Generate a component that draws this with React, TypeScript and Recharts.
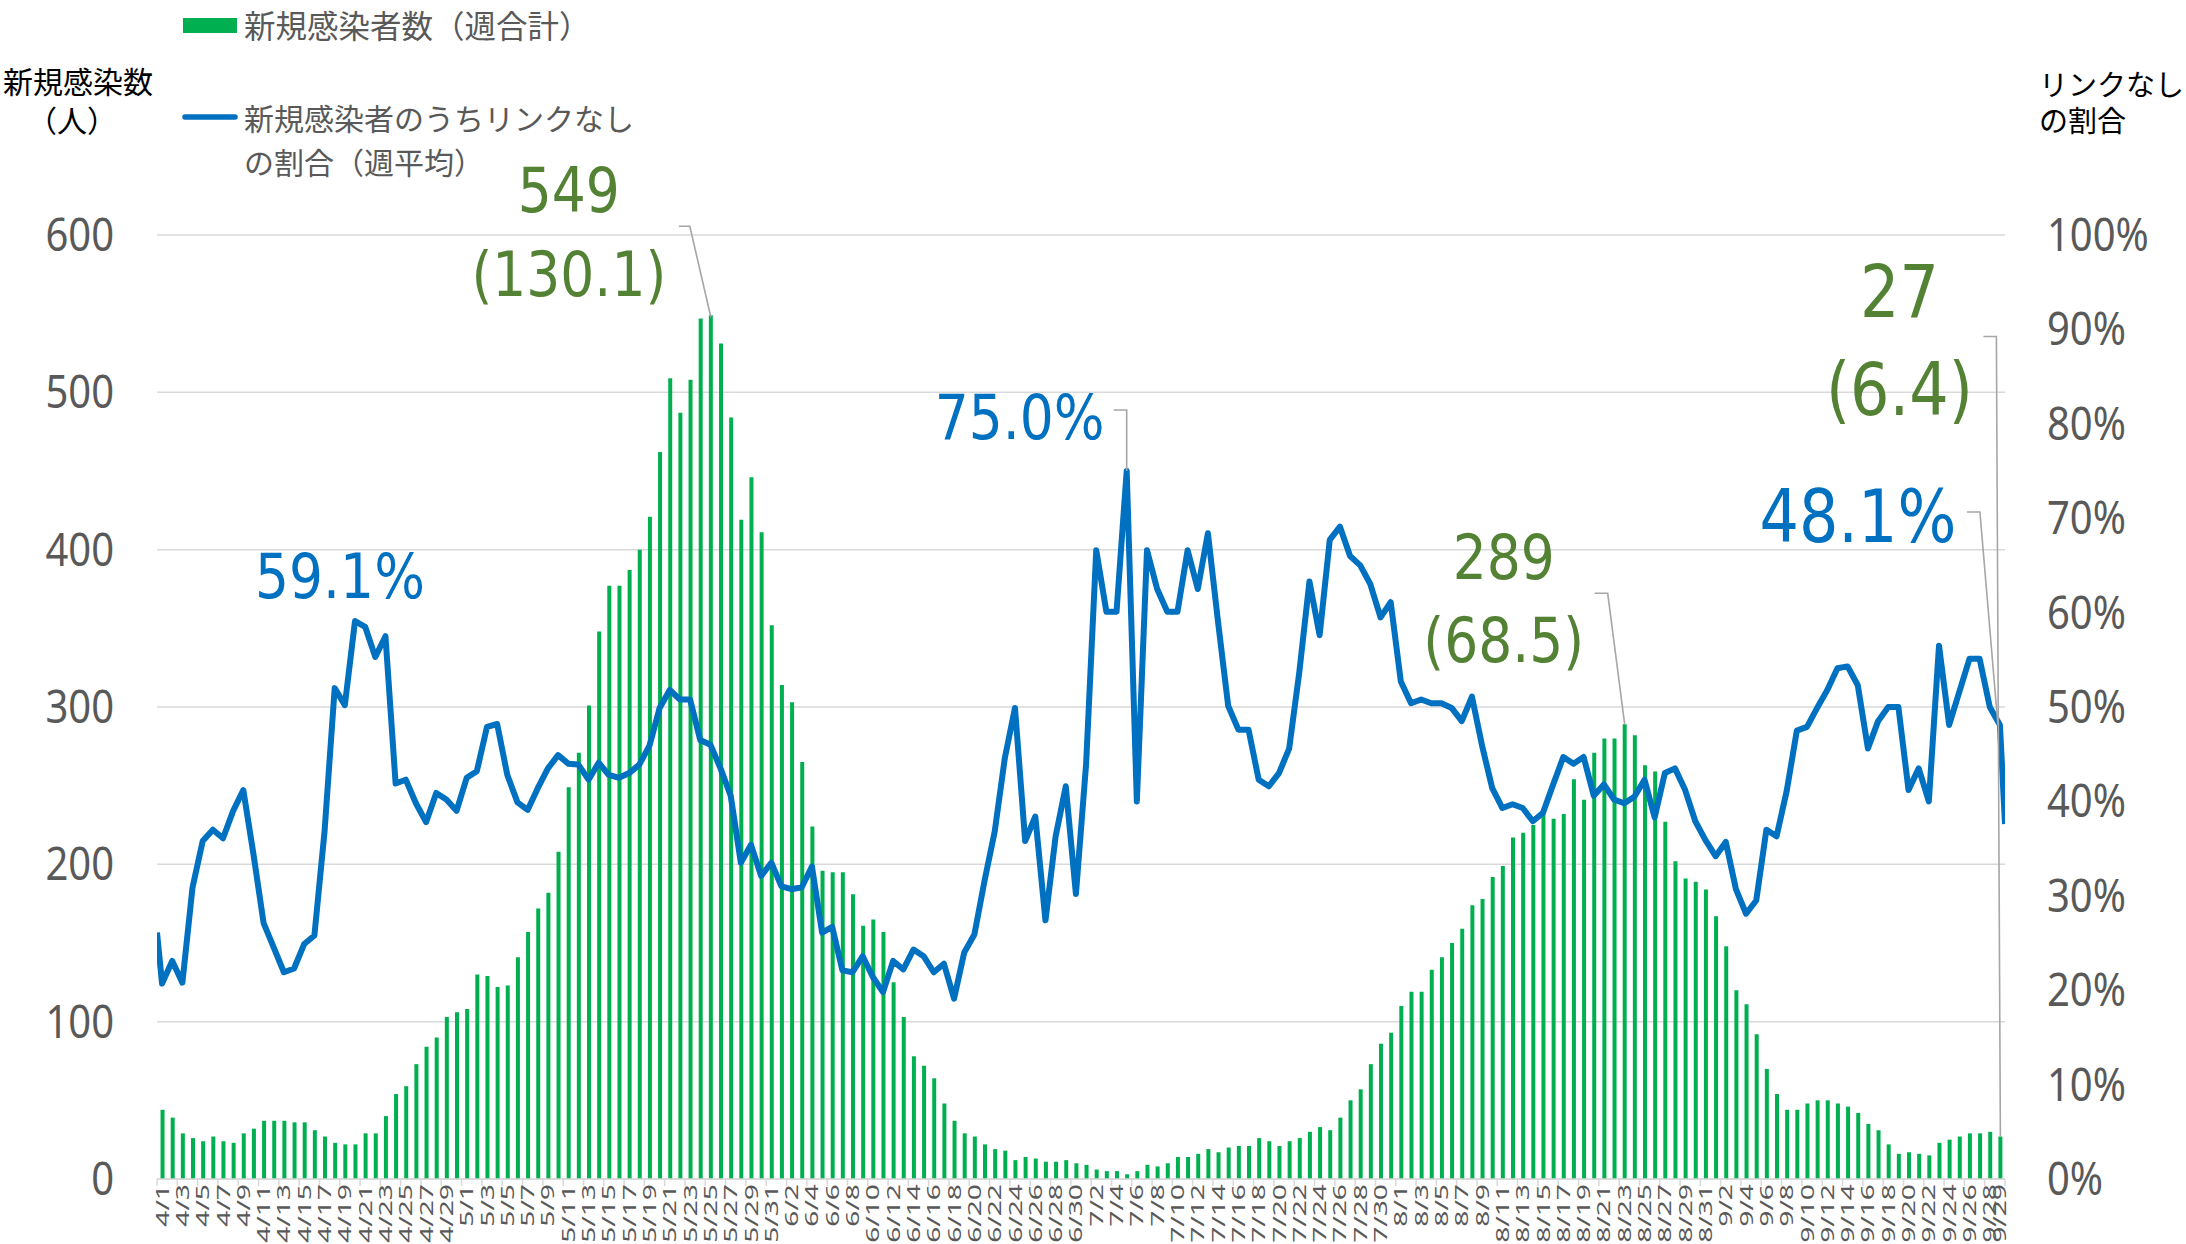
import React from "react";
import {
  Bar,
  CartesianGrid,
  ComposedChart,
  LabelList,
  Line,
  XAxis,
  YAxis,
} from "recharts";

// ---- data ---------------------------------------------------------------

const monthLengths: [number, number][] = [
  [4, 30],
  [5, 31],
  [6, 30],
  [7, 31],
  [8, 31],
  [9, 29],
];

const dates: string[] = monthLengths.flatMap(([m, n]) =>
  Array.from({ length: n }, (_, i) => `${m}/${i + 1}`)
);

// 新規感染者数（週合計）
const weeklyCases = [
  // April
  44, 39, 29, 26, 24, 27, 24, 23, 29, 32, 37, 37, 37, 36, 36, 31, 27, 23, 22, 22,
  29, 29, 40, 54, 59, 73, 84, 90, 103, 106,
  // May
  108, 130, 129, 122, 123, 141, 157, 172, 182, 208, 249, 271, 301, 348, 377, 377,
  387, 400, 421, 462, 509, 487, 508, 547, 549, 531, 484, 419, 446, 411, 352,
  // June
  314, 303, 265, 224, 196, 195, 195, 181, 161, 165, 157, 125, 103, 78, 72, 64, 48,
  37, 29, 27, 22, 19, 18, 12, 14, 13, 11, 11, 12, 10,
  // July
  9, 6, 5, 5, 3, 5, 9, 8, 10, 14, 14, 16, 19, 17, 20, 21, 21, 26, 24, 21, 24, 26,
  30, 33, 31, 39, 50, 57, 73, 86, 93,
  // August
  110, 119, 119, 133, 141, 150, 159, 174, 178, 192, 199, 217, 220, 225, 232, 229,
  232, 254, 241, 271, 280, 280, 289, 282, 263, 259, 227, 202, 191, 189, 184,
  // September
  167, 148, 120, 111, 92, 70, 54, 44, 44, 48, 50, 50, 48, 46, 42, 35, 31, 22, 16,
  17, 16, 15, 23, 25, 27, 29, 29, 30, 27,
];

// 新規感染者のうちリンクなしの割合（週平均, %）
const unlinkedRate = [
  // April
  20.7, 23.1, 20.8, 30.9, 35.8, 37.0, 36.1, 39.0, 41.2, 34.4, 27.1, 24.5, 21.9,
  22.3, 24.9, 25.8, 36.8, 52.0, 50.2, 59.1, 58.5, 55.3, 57.5, 41.9, 42.3, 39.8,
  37.8, 40.9, 40.2, 39.0,
  // May
  42.5, 43.2, 47.9, 48.2, 42.8, 39.9, 39.1, 41.4, 43.5, 44.9, 44.0, 43.9, 42.3,
  44.1, 42.8, 42.5, 43.0, 43.9, 45.9, 49.9, 51.8, 50.8, 50.8, 46.5, 46.0, 43.5,
  40.6, 33.5, 35.4, 32.1, 33.5,
  // June
  31.0, 30.7, 30.9, 33.1, 26.1, 26.7, 22.1, 21.9, 23.6, 21.4, 19.8, 23.1, 22.2,
  24.3, 23.6, 21.9, 22.8, 19.1, 24.0, 25.9, 31.6, 36.8, 44.6, 49.9, 35.8, 38.4,
  27.4, 36.3, 41.6, 30.2,
  // July
  43.9, 66.6, 60.1, 60.1, 75.0, 40.0, 66.6, 62.5, 60.1, 60.1, 66.6, 62.5, 68.4,
  59.0, 50.1, 47.6, 47.6, 42.3, 41.6, 43.0, 45.6, 53.7, 63.3, 57.6, 67.7, 69.1,
  66.0, 65.0, 63.0, 59.5, 61.1,
  // August
  52.7, 50.4, 50.8, 50.4, 50.4, 49.9, 48.5, 51.1, 45.9, 41.4, 39.3, 39.7, 39.3,
  37.9, 38.8, 41.8, 44.7, 44.0, 44.7, 40.6, 41.8, 40.2, 39.8, 40.5, 42.3, 38.3,
  43.0, 43.5, 41.2, 37.9, 35.9,
  // September
  34.2, 35.7, 30.7, 28.1, 29.5, 37.0, 36.3, 41.1, 47.5, 47.9, 49.9, 51.8, 54.1,
  54.3, 52.3, 45.6, 48.5, 50.0, 50.0, 41.2, 43.5, 40.0, 56.5, 48.1, 51.6, 55.1,
  55.1, 50.0, 48.1,
];

// where the line meets the left and right plot edges (it runs off both sides)
const unlinkedRateEdges = [26.1, 37.6];

const countTicks = [0, 100, 200, 300, 400, 500, 600];
const rateTicks = [0, 10, 20, 30, 40, 50, 60, 70, 80, 90, 100];
const dateTicks = dates
  .map((_, i) => i)
  .filter((i) => i % 2 === 0 || i === dates.length - 1);

const caseNotes: Record<string, string[]> = {
  "5/25": ["549", "(130.1)"],
  "8/23": ["289", "(68.5)"],
  "9/29": ["27", "(6.4)"],
};
const rateNotes: Record<string, string> = {
  "4/20": "59.1%",
  "7/5": "75.0%",
  "9/29": "48.1%",
};

const caseRows = dates.map((d, i) => ({ idx: i, date: d, cases: weeklyCases[i] }));
const rateRows = [
  { idx: -0.5, date: "", rate: unlinkedRateEdges[0] },
  ...dates.map((d, i) => ({ idx: i, date: d, rate: unlinkedRate[i] })),
  { idx: dates.length - 0.5, date: "", rate: unlinkedRateEdges[1] },
];

// ---- layout / style -------------------------------------------------------

const W = 2186;
const H = 1244;
const LEFT_W = 157;
const RIGHT_W = 181;
const TOP = 235;
const X_AXIS_H = 65;
const HALF_DAY = (W - LEFT_W - RIGHT_W) / dates.length / 2;

const GREEN = "#00B050";
const BLUE = "#0070C0";
const NOTE_GREEN = "#548235";
const GREY_TEXT = "#595959";
const GRID = "#D9D9D9";
const LEADER = "#A6A6A6";

const NUM_FONT = "'Noto Sans', 'Liberation Sans', sans-serif";
const NOTE_FONT = "'DejaVu Sans', sans-serif";
const JP_FONT = "'Noto Sans CJK JP', 'Noto Sans', sans-serif";

type NoteStyle = {
  dx: number;
  dy: number[];
  size: number;
  leader?: [number, number][];
};

const caseNoteStyle: Record<string, NoteStyle> = {
  "5/25": { dx: -142, dy: [-103, -19], size: 53.5, leader: [[0, 2], [-21, -89], [-32, -89]] },
  "8/23": { dx: -121, dy: [-145, -62], size: 53.5, leader: [[0, 0], [-17, -131], [-30, -131]] },
  "9/29": { dx: -101, dy: [-820, -722], size: 62, leader: [[0, 0], [-4, -800], [-17, -800]] },
};
const rateNoteStyle: Record<string, NoteStyle> = {
  "4/20": { dx: -15, dy: [-23], size: 53.5 },
  "7/5": { dx: -107, dy: [-32], size: 53.5, leader: [[0, 0], [0, -61], [-13, -61]] },
  "9/29": { dx: -142, dy: [-183], size: 62, leader: [[-2, 0], [-20, -213], [-33, -213]] },
};

function pointOf(props: any) {
  const vb = props.viewBox ?? {};
  const x = Number(props.x ?? vb.x);
  const y = Number(props.y ?? vb.y);
  const w = Number(props.width ?? vb.width ?? 0) || 0;
  return { x: x + w / 2, y };
}

function Note({
  px,
  py,
  lines,
  style,
  color,
}: {
  px: number;
  py: number;
  lines: string[];
  style: NoteStyle;
  color: string;
}) {
  return (
    <g>
      {style.leader && (
        <polyline
          points={style.leader.map(([a, b]) => `${px + a},${py + b}`).join(" ")}
          fill="none"
          stroke={LEADER}
          strokeWidth={1.6}
        />
      )}
      {lines.map((t, k) => (
        <text
          key={k}
          transform={`translate(${px + style.dx},${py + style.dy[k]}) scale(1,1.18)`}
          textAnchor="middle"
          fontFamily={NOTE_FONT}
          fontSize={style.size}
          fill={color}
        >
          {t}
        </text>
      ))}
    </g>
  );
}

function CaseNote(props: any) {
  const d = caseRows[props.index]?.date;
  if (!d || !caseNotes[d]) return null;
  const { x, y } = pointOf(props);
  return <Note px={x} py={y} lines={caseNotes[d]} style={caseNoteStyle[d]} color={NOTE_GREEN} />;
}

function RateNote(props: any) {
  const d = rateRows[props.index]?.date;
  if (!d || !rateNotes[d]) return null;
  const { x, y } = pointOf(props);
  return <Note px={x} py={y} lines={[rateNotes[d]]} style={rateNoteStyle[d]} color={BLUE} />;
}

function CountTick({ x, y, payload }: any) {
  return (
    <text
      transform={`translate(${x},${y + 16}) scale(1,1.13)`}
      textAnchor="end"
      fontFamily={NUM_FONT}
      fontSize={40}
      fill={GREY_TEXT}
    >
      {payload.value}
    </text>
  );
}

function RateTick({ x, y, payload }: any) {
  return (
    <text
      transform={`translate(${x},${y + 16}) scale(1,1.13)`}
      textAnchor="start"
      fontFamily={NUM_FONT}
      fontSize={40}
      fill={GREY_TEXT}
    >
      {`${payload.value}%`}
    </text>
  );
}

function DateTick({ x, y, payload }: any) {
  const i = payload.value as number;
  const mark = i === dates.length - 1 ? x + HALF_DAY : x - HALF_DAY;
  return (
    <g>
      <line x1={mark} x2={mark} y1={y - 5} y2={y + 2} stroke={GRID} strokeWidth={1.5} />
      <text
        transform={`translate(${x + 6.5},${y}) rotate(-90) scale(1.55,1)`}
        textAnchor="end"
        fontFamily={NUM_FONT}
        fontSize={18.2}
        fill={GREY_TEXT}
      >
        {dates[i]}
      </text>
    </g>
  );
}

function Overlay() {
  const jp = { fontFamily: JP_FONT, dominantBaseline: "central" as const };
  return (
    <svg
      width={W}
      height={240}
      style={{ position: "absolute", left: 0, top: 0, pointerEvents: "none" }}
    >
      <rect x={183} y={18} width={54} height={15} fill={GREEN} />
      <text x={244} y={24} fontSize={31.5} fill={GREY_TEXT} {...jp}>
        新規感染者数（週合計）
      </text>
      <line x1={185} x2={235} y1={117} y2={117} stroke={BLUE} strokeWidth={5.5} strokeLinecap="round" />
      <text x={244} y={117} fontSize={30} fill={GREY_TEXT} {...jp}>
        新規感染者のうちリンクなし
      </text>
      <text x={244} y={161} fontSize={30} fill={GREY_TEXT} {...jp}>
        の割合（週平均）
      </text>

      <text x={3} y={80} fontSize={30} fill="#000" {...jp}>
        新規感染数
      </text>
      <text x={72} y={119} fontSize={30} fill="#000" textAnchor="middle" {...jp}>
        （人）
      </text>

      <text x={2039} y={83} fontSize={29} fill="#000" {...jp}>
        リンクなし
      </text>
      <text x={2039} y={119} fontSize={29} fill="#000" {...jp}>
        の割合
      </text>
    </svg>
  );
}

export default function App() {
  return (
    <div
      style={{
        position: "absolute",
        left: 0,
        top: 0,
        width: W,
        height: H,
        background: "#fff",
        overflow: "hidden",
      }}
    >
      <ComposedChart
        width={W}
        height={H}
        data={caseRows}
        margin={{ top: TOP, right: 0, bottom: 0, left: 0 }}
      >
        <CartesianGrid vertical={false} stroke={GRID} strokeWidth={1.5} yAxisId="count" />
        <XAxis
          dataKey="idx"
          type="number"
          domain={[-0.5, dates.length - 0.5]}
          allowDataOverflow
          ticks={dateTicks}
          interval={0}
          tick={<DateTick />}
          tickLine={false}
          tickSize={0}
          tickMargin={5}
          axisLine={{ stroke: GRID, strokeWidth: 1.5 }}
          height={X_AXIS_H}
        />
        <YAxis
          yAxisId="count"
          domain={[0, 600]}
          ticks={countTicks}
          interval={0}
          tick={<CountTick />}
          tickLine={false}
          tickSize={0}
          tickMargin={43}
          axisLine={false}
          width={LEFT_W}
        />
        <YAxis
          yAxisId="rate"
          orientation="right"
          domain={[0, 100]}
          ticks={rateTicks}
          interval={0}
          tick={<RateTick />}
          tickLine={false}
          tickSize={0}
          tickMargin={42}
          axisLine={false}
          width={RIGHT_W}
        />
        <Bar
          yAxisId="count"
          dataKey="cases"
          fill={GREEN}
          barSize={4}
          isAnimationActive={false}
        >
          <LabelList dataKey="cases" content={<CaseNote />} />
        </Bar>
        <Line
          yAxisId="rate"
          data={rateRows}
          dataKey="rate"
          type="linear"
          stroke={BLUE}
          strokeWidth={6}
          strokeLinejoin="round"
          dot={false}
          activeDot={false}
          isAnimationActive={false}
        >
          <LabelList dataKey="rate" content={<RateNote />} />
        </Line>
      </ComposedChart>
      <Overlay />
    </div>
  );
}
